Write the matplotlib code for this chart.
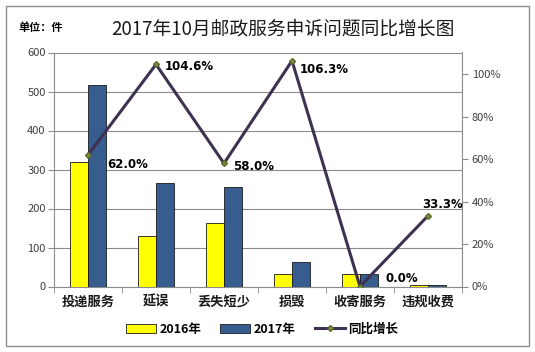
import matplotlib
matplotlib.use("Agg")
import matplotlib.pyplot as plt
import numpy as np
from matplotlib.patches import Rectangle
from matplotlib.lines import Line2D

plt.rcParams['font.family'] = ['Noto Sans CJK SC', 'DejaVu Sans']

categories = ["投递服务", "延误", "丢失短少", "损毁", "收寄服务", "违规收费"]
v2016 = [319, 130, 162, 31, 33, 3]
v2017 = [517, 266, 256, 64, 33, 4]
yoy = [62.0, 104.6, 58.0, 106.3, 0.0, 33.3]
left_ticks = [0, 100, 200, 300, 400, 500, 600]
right_ticks = [0, 20, 40, 60, 80, 100]

fig = plt.figure(figsize=(5.35, 3.52), dpi=100)
fig.patch.set_facecolor('white')
fig.add_artist(Rectangle((6/535, 6/352), 523/535, 340/352, transform=fig.transFigure,
                         fill=False, edgecolor='#8c8c8c', linewidth=1.0))

ax = fig.add_axes([54/535, 1-286.5/352, 408/535, 234/352])
x = np.arange(len(categories))
w = 0.27
ax.bar(x - w/2, v2016, w, color='#FFFF00', edgecolor='#1a1a1a', linewidth=0.6, zorder=3, label='2016年')
ax.bar(x + w/2, v2017, w, color='#375C8E', edgecolor='#1a1a1a', linewidth=0.6, zorder=3, label='2017年')
ax.set_xlim(-0.5, len(categories) - 0.5)
ax.set_ylim(0, 600)
ax.set_yticks(left_ticks)
ax.grid(axis='y', color='#8c8c8c', linewidth=0.8, zorder=0)
ax.set_axisbelow(True)
for s in ['top', 'right']:
    ax.spines[s].set_visible(False)
ax.spines['left'].set_color('#8c8c8c')
ax.spines['bottom'].set_color('#8c8c8c')
ax.tick_params(axis='y', colors='#8c8c8c', labelcolor='#404040', labelsize=8, length=4, pad=2)
ax.set_xticks(x)
ax.set_xticklabels(categories, fontsize=9.5, fontweight='bold', color='#1a1a1a')
ax.tick_params(axis='x', length=0, pad=6)
ax.set_xticks(np.arange(-0.5, len(categories)), minor=True)
ax.tick_params(axis='x', which='minor', length=4, color='#8c8c8c')

ax2 = ax.twinx()
ax2.set_ylim(0, 110.2)
ax2.set_yticks(right_ticks)
ax2.set_yticklabels([f"{t}%" for t in right_ticks])
for s in ['top', 'left', 'bottom']:
    ax2.spines[s].set_visible(False)
ax2.spines['right'].set_color('#8c8c8c')
ax2.tick_params(axis='y', colors='#8c8c8c', labelcolor='#404040', labelsize=8, length=4, pad=3)
ax2.plot(x, yoy, color='#3F3151', linewidth=2.2, marker='D', markersize=3,
         markerfacecolor='#7F8F3F', markeredgecolor='#5a6a2a', zorder=5)

offsets_px = [(19, 10), (9, 2), (9, 3), (8, 9), (25, -8), (-6, -11)]
for xi, yi, (dx, dy) in zip(x, yoy, offsets_px):
    ax2.annotate(f"{yi:.1f}%", (xi, yi), xytext=(dx*0.72, -dy*0.72), textcoords='offset points',
                 ha='left', va='center', fontsize=8.5, fontweight='bold', color='#000000',
                 family=['DejaVu Sans'])

fig.text(18/535, 1-27/352, "单位：件", fontsize=8, fontweight='bold', ha='left', va='center')
fig.text(283/535, 1-29/352, "2017年10月邮政服务申诉问题同比增长图", fontsize=13.5, ha='center', va='center',
         color='#1a1a1a')

handles = [Rectangle((0, 0), 1, 1, facecolor='#FFFF00', edgecolor='#1a1a1a', linewidth=0.6),
           Rectangle((0, 0), 1, 1, facecolor='#375C8E', edgecolor='#1a1a1a', linewidth=0.6),
           Line2D([], [], color='#3F3151', linewidth=2.2, marker='D', markersize=3,
                  markerfacecolor='#7F8F3F', markeredgecolor='#5a6a2a')]
leg = fig.legend(handles, ["2016年", "2017年", "同比增长"], loc='center', bbox_to_anchor=(262/535, 1-329/352),
                 ncol=3, frameon=False, handlelength=2.4, handleheight=0.7, handletextpad=0.3,
                 columnspacing=1.5, prop={'size': 9, 'weight': 'bold'})

fig.savefig("out.png", dpi=100, facecolor='white')
